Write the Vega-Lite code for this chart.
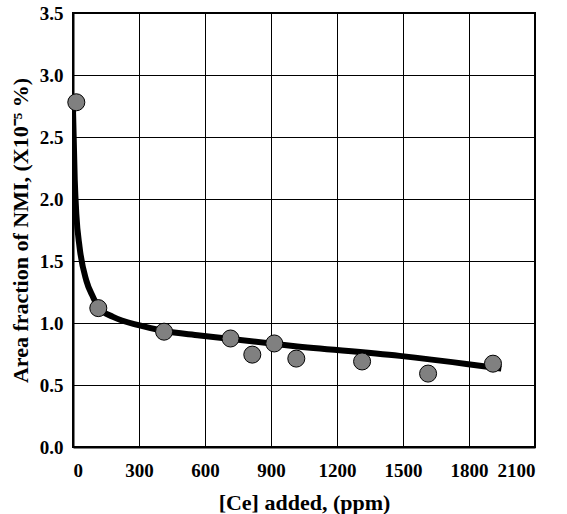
{
  "$schema": "https://vega.github.io/schema/vega-lite/v6.json",
  "width": 462,
  "height": 434,
  "autosize": {"type": "none"},
  "padding": {"left": 73, "top": 13, "right": 32, "bottom": 67},
  "background": "white",
  "config": {
    "font": "Liberation Serif",
    "view": {"stroke": "black", "strokeWidth": 2},
    "axis": {
      "domainColor": "black",
      "domainWidth": 2,
      "gridColor": "black",
      "gridWidth": 1,
      "gridOpacity": 1,
      "ticks": false,
      "labelFont": "Liberation Serif",
      "labelFontWeight": "bold",
      "labelFontSize": 19,
      "labelColor": "black",
      "titleFont": "Liberation Serif",
      "titleFontWeight": "bold",
      "titleFontSize": 22,
      "titleColor": "black"
    }
  },
  "datasets": {
    "measured": [
      {"ce": 15, "area": 2.78},
      {"ce": 115, "area": 1.12},
      {"ce": 414, "area": 0.93},
      {"ce": 716, "area": 0.875},
      {"ce": 815, "area": 0.745},
      {"ce": 915, "area": 0.835},
      {"ce": 1015, "area": 0.713},
      {"ce": 1314, "area": 0.69},
      {"ce": 1614, "area": 0.592},
      {"ce": 1909, "area": 0.672}
    ],
    "fit": [
      {"ce": 0, "area": 2.72},
      {"ce": 8, "area": 2.15},
      {"ce": 15, "area": 1.88},
      {"ce": 30, "area": 1.61},
      {"ce": 61, "area": 1.34},
      {"ce": 91, "area": 1.21},
      {"ce": 117, "area": 1.12},
      {"ce": 182, "area": 1.05},
      {"ce": 303, "area": 0.98},
      {"ce": 414, "area": 0.935},
      {"ce": 576, "area": 0.9},
      {"ce": 1000, "area": 0.815},
      {"ce": 1485, "area": 0.735},
      {"ce": 1788, "area": 0.67},
      {"ce": 1947, "area": 0.632}
    ]
  },
  "encoding": {
    "x": {
      "field": "ce",
      "type": "quantitative",
      "title": "[Ce] added, (ppm)",
      "scale": {"domain": [0, 2100], "nice": false, "zero": false},
      "axis": {
        "values": [0, 300, 600, 900, 1200, 1500, 1800, 2100],
        "format": "d",
        "labelPadding": 14,
        "titlePadding": 12
      }
    },
    "y": {
      "field": "area",
      "type": "quantitative",
      "title": "Area fraction of NMI, (X10⁻⁵ %)",
      "scale": {"domain": [0, 3.5], "nice": false},
      "axis": {
        "values": [0, 0.5, 1, 1.5, 2, 2.5, 3, 3.5],
        "format": ".1f",
        "labelPadding": 10,
        "titlePadding": 7
      }
    }
  },
  "layer": [
    {
      "data": {"name": "fit"},
      "mark": {"type": "line", "color": "black", "strokeWidth": 6, "interpolate": "monotone", "clip": true}
    },
    {
      "data": {"name": "measured"},
      "mark": {"type": "point", "shape": "circle", "filled": true, "size": 290, "fill": "#808080", "stroke": "black", "strokeWidth": 1, "opacity": 1}
    }
  ]
}
